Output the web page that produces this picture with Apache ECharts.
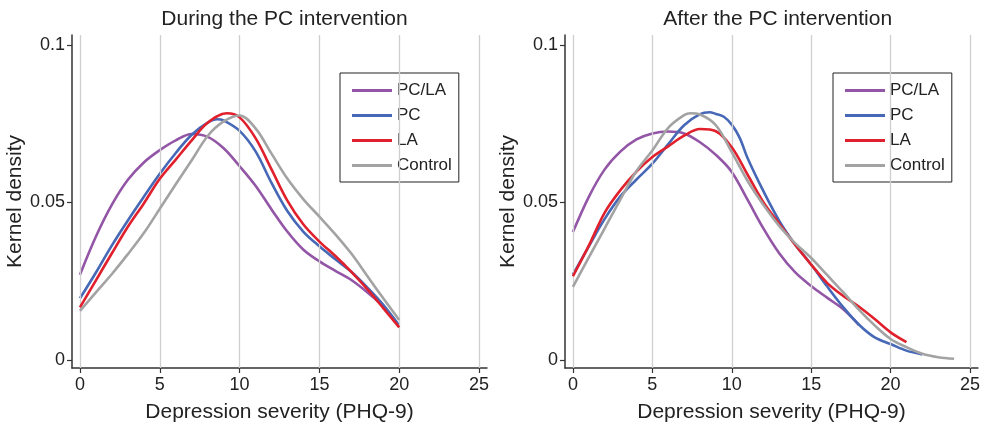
<!DOCTYPE html>
<html>
<head>
<meta charset="utf-8">
<script src="https://cdn.jsdelivr.net/npm/echarts@6/dist/echarts.min.js"></script>
<style>
html,body{margin:0;padding:0;background:#fff;}
#chart{width:983px;height:428px;}
</style>
</head>
<body>
<div id="chart"></div>
<script>
// ---------- data ----------
const panelTitles = ['During the PC intervention', 'After the PC intervention'];
const xAxisTitle = 'Depression severity (PHQ-9)';
const yAxisTitle = 'Kernel density';
const groups = ['PC/LA', 'PC', 'LA', 'Control'];
const xTicks = [0, 5, 10, 15, 20, 25];
const yTicks = [0, 0.05, 0.1];

// During the PC intervention
const duringPCLA_x    = [0,1,2,3,4,5,6,7,8,9,10,11,12,13,14,15,16,17,18,19,20];
const duringPCLA_y    = [0.0271,0.0392,0.0493,0.0572,0.0627,0.0666,0.0697,0.0717,0.0708,0.0672,0.0615,0.0553,0.0478,0.0407,0.0350,0.0313,0.0283,0.0254,0.0215,0.0170,0.0109];
const duringPC_x      = [0,1,2,3,4,5,6,7,8,8.6,9,10,11,12,13,14,15,16,17,18,19,20];
const duringPC_y      = [0.0196,0.0278,0.0364,0.0443,0.0518,0.0591,0.0657,0.0715,0.0753,0.0764,0.0760,0.0727,0.0662,0.0562,0.0472,0.0407,0.0361,0.0320,0.0280,0.0230,0.0175,0.0109];
const duringLA_x      = [0,1,2,3,4,5,6,7,8,9.2,10,11,12,13,14,15,16,17,18,19,20];
const duringLA_y      = [0.0167,0.0253,0.0339,0.0423,0.0497,0.0575,0.0636,0.0697,0.0753,0.0783,0.0770,0.0704,0.0605,0.0505,0.0430,0.0376,0.0330,0.0280,0.0225,0.0165,0.0104];
const duringControl_x = [0,1,2,3,4,5,6,7,8,9,10,11,12,13,14,15,16,17,18,19,20];
const duringControl_y = [0.0156,0.0215,0.0273,0.0336,0.0403,0.0480,0.0558,0.0634,0.0711,0.0757,0.0776,0.0735,0.0655,0.0575,0.0510,0.0455,0.0399,0.0338,0.0267,0.0196,0.0127];

// After the PC intervention
const afterPCLA_x    = [0,1,2,3,4,5,6,7,8,9,10,11,12,13,14,15,16,17,18];
const afterPCLA_y    = [0.0406,0.0518,0.0605,0.0662,0.0700,0.0719,0.0725,0.0719,0.0691,0.0651,0.0597,0.0508,0.0417,0.0338,0.0278,0.0235,0.0198,0.0162,0.0112];
const afterPC_x      = [0,1,2,3,4,5,6,7,8,8.6,9,9.5,10,10.5,11,12,13,14,15,16,17,18,19,20,21,22];
const afterPC_y      = [0.0271,0.0361,0.0448,0.0520,0.0573,0.0623,0.0685,0.0745,0.0780,0.0786,0.0781,0.0772,0.0747,0.0705,0.0640,0.0535,0.0441,0.0366,0.0303,0.0234,0.0169,0.0113,0.0072,0.0051,0.0030,0.0018];
const afterLA_x      = [0,1,2,3,4,5,6,7,8,9,10,11,12,13,14,15,16,17,18,19,20,21];
const afterLA_y      = [0.0266,0.0363,0.0468,0.0540,0.0598,0.0644,0.0678,0.0712,0.0733,0.0726,0.0675,0.0588,0.0500,0.0432,0.0365,0.0303,0.0245,0.0204,0.0170,0.0130,0.0088,0.0057];
const afterControl_x = [0,1,2,3,4,5,6,7,7.4,8,9,10,11,12,13,14,15,16,17,18,19,20,21,22,23,24];
const afterControl_y = [0.0232,0.0326,0.0418,0.0511,0.0600,0.0665,0.0737,0.0777,0.0783,0.0779,0.0745,0.0660,0.0568,0.0492,0.0425,0.0370,0.0324,0.0270,0.0216,0.0160,0.0110,0.0067,0.0041,0.0020,0.0009,0.0004];

// ---------- styling / layout ----------
const colors = ['#9356a6', '#4668b6', '#e0202c', '#a3a3a3'];
const FONT = '"Liberation Sans", Arial, Helvetica, sans-serif';
const TXT = '#222';
const AX = '#333';

const panels = [
  { series: [[duringPCLA_x, duringPCLA_y], [duringPC_x, duringPC_y], [duringLA_x, duringLA_y], [duringControl_x, duringControl_y]],
    grid: { left: 72, right: 496, top: 35, bottom: 56 }, legendLeft: 340, titleX: 279.5 },
  { series: [[afterPCLA_x, afterPCLA_y], [afterPC_x, afterPC_y], [afterLA_x, afterLA_y], [afterControl_x, afterControl_y]],
    grid: { left: 565, right: 3, top: 35, bottom: 56 }, legendLeft: 833, titleX: 772.7 }
];

const toPairs = (xs, ys) => ys.map((v, i) => [xs[i], v]);

const option = {
  backgroundColor: '#fff',
  animation: false,
  textStyle: { fontFamily: FONT, color: TXT },
  title: panels.map((p, i) => ({
    text: panelTitles[i],
    left: p.titleX,
    textAlign: 'center',
    top: 4,
    textStyle: { fontFamily: FONT, fontSize: 21, fontWeight: 'normal', color: TXT }
  })),
  grid: panels.map(p => Object.assign({ containLabel: false }, p.grid)),
  xAxis: panels.map((p, i) => ({
    type: 'value', gridIndex: i, min: -0.5, max: 25.5,
    name: xAxisTitle, nameLocation: 'middle', nameGap: 34,
    nameTextStyle: { fontFamily: FONT, fontSize: 21, color: TXT },
    axisLine: { show: true, onZero: false, lineStyle: { color: AX, width: 1.5 } },
    axisTick: { show: true, length: 5, lineStyle: { color: AX, width: 1.2 }, customValues: xTicks },
    axisLabel: { fontFamily: FONT, fontSize: 18, color: TXT, margin: 8, customValues: xTicks },
    splitLine: { show: false }
  })),
  yAxis: panels.map((p, i) => ({
    type: 'value', gridIndex: i, min: -0.00251, max: 0.10313,
    name: yAxisTitle, nameLocation: 'middle', nameGap: 40, nameRotate: 90,
    nameTextStyle: { fontFamily: FONT, fontSize: 21, color: TXT },
    axisLine: { show: true, onZero: false, lineStyle: { color: AX, width: 1.5 } },
    axisTick: { show: true, length: 5, lineStyle: { color: AX, width: 1.2 }, customValues: yTicks },
    axisLabel: { fontFamily: FONT, fontSize: 18, color: TXT, margin: 7, customValues: yTicks },
    splitLine: { show: false }
  })),
  legend: panels.map(p => ({
    data: groups, orient: 'vertical', left: p.legendLeft, top: 73,
    padding: [9, 7, 8, 12], itemWidth: 40, itemHeight: 3, itemGap: 8,
    icon: 'rect',
    backgroundColor: '#fff', borderColor: '#222', borderWidth: 1, borderRadius: 0,
    selectedMode: false,
    textStyle: { fontFamily: FONT, fontSize: 17, color: TXT }
  })),
  series: []
};

panels.forEach((p, pi) => {
  // vertical grid lines at the x tick values
  option.series.push({
    type: 'line', xAxisIndex: pi, yAxisIndex: pi, data: [], z: 1, silent: true,
    markLine: {
      silent: true, symbol: ['none', 'none'], label: { show: false },
      lineStyle: { color: '#cfcfcf', width: 1.3, type: 'solid' },
      emphasis: { disabled: true },
      data: xTicks.map(v => ({ xAxis: v }))
    }
  });
  p.series.forEach((xy, si) => {
    option.series.push({
      name: groups[si], type: 'line', xAxisIndex: pi, yAxisIndex: pi,
      data: toPairs(xy[0], xy[1]), smooth: 0.35, symbol: 'none', z: 3 + si,
      color: colors[si],
      itemStyle: { color: colors[si] },
      lineStyle: { color: colors[si], width: 2.6 },
      emphasis: { disabled: true }
    });
  });
});

const chart = echarts.init(document.getElementById('chart'), null, { renderer: 'canvas' });
chart.setOption(option);
</script>
</body>
</html>
